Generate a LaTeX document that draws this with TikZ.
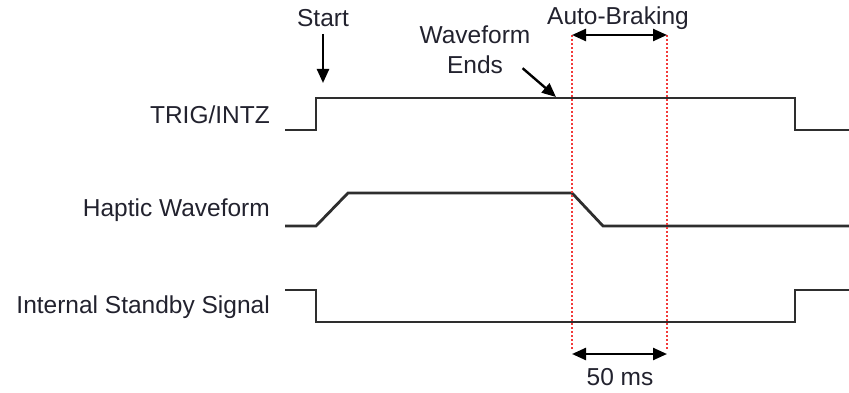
\documentclass[tikz,border=0pt]{standalone}
\usepackage{fontspec}
\setmainfont{Liberation Sans}
\usetikzlibrary{arrows.meta}
\definecolor{trazo}{HTML}{2E2E2E}
\definecolor{texto}{HTML}{22222E}
\definecolor{marca}{HTML}{F23A3A}

\begin{document}
\begin{tikzpicture}[x=1pt,y=-1pt,
   senal/.style={draw=trazo,line width=2.8pt,line join=miter},
   nombre/.style={anchor=east,inner sep=0pt,text=texto,font=\fontsize{24.5}{30}\selectfont},
   rotulo/.style={inner sep=0pt,align=center,text=texto,font=\fontsize{24.5}{30}\selectfont},
   guia/.style={draw=marca,dash pattern=on 2pt off 2pt,line width=2pt},
   flecha/.style={draw=black,line width=2.4pt,-{Triangle[length=14pt,width=12pt]}},
   cota/.style={draw=black,line width=2.4pt,{Triangle[length=14pt,width=12pt]}-{Triangle[length=14pt,width=12pt]}}]

  \useasboundingbox (0,0) rectangle (849,393);

  % nombres de las senales
  \node[nombre] (trig)    at (270,115) {TRIG/INTZ};
  \node[nombre] (haptic)  at (270,210) {Haptic Waveform};
  \node[nombre] (standby) at (270,307) {Internal Standby Signal};

  % --- TRIG/INTZ ---
  \draw[senal] (285,130) -- (316,130) -- (316,98) -- (795,98) -- (795,130) -- (849,130);
  % --- Haptic Waveform ---
  \draw[senal] (285,226) -- (316,226) -- (348,193) -- (572,193) -- (603,226) -- (849,226);
  % --- Internal Standby Signal ---
  \draw[senal] (285,290) -- (316,290) -- (316,322) -- (795,322) -- (795,290) -- (849,290);

  % lineas guia rojas
  \foreach \x in {572,667}
    \draw[guia] (\x,35) -- (\x,350);
  \coordinate (frenoA) at (572,35);
  \coordinate (frenoB) at (667,35);
  \coordinate (tiempoA) at (572,354);
  \coordinate (tiempoB) at (667,354);

  % Start
  \node[rotulo] (inicio) at (323,18) {Start};
  \coordinate (pulso) at (323,83);
  \draw[flecha] ([yshift=-7pt]inicio.south) -- (pulso);

  % Waveform Ends
  \node[rotulo] (fin) at (475,50) {Waveform\\Ends};
  \coordinate (finOnda) at (556,97);
  \draw[flecha] ([shift={(-8,-6)}]fin.south east) -- (finOnda);

  % Auto-Braking
  \node[rotulo] (freno) at (618,18) {Auto-Braking};
  \draw[cota] (frenoA) -- (frenoB);

  % 50 ms
  \node[rotulo] (tiempo) at (620,377) {50 ms};
  \draw[cota] (tiempoA) -- (tiempoB);
\end{tikzpicture}
\end{document}
